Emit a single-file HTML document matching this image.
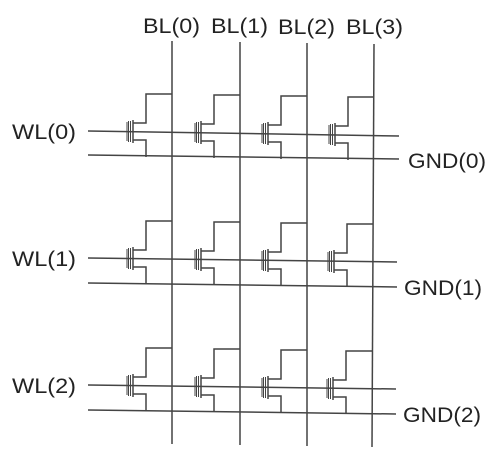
<!DOCTYPE html>
<html><head><style>
html,body{margin:0;padding:0;background:#fff;width:499px;height:456px;overflow:hidden}
text{font-family:"Liberation Sans",Arial,sans-serif;font-size:21px;fill:#222}
</style></head><body>
<svg width="499" height="456" viewBox="0 0 499 456" xmlns="http://www.w3.org/2000/svg">
<defs>
<g id="c" fill="none" stroke="#444" stroke-width="1.5">
<path d="M0,-38 H-26 V-9 H-39"/>
<path d="M-39,8 H-26 V25"/>
<path d="M-39,-12 V11"/>
<path d="M-41.5,-11 V10 M-43.5,-11 V10 M-45,-10 V9" stroke-width="1"/>
</g>
</defs>
<g stroke="#444" stroke-width="1.5">
<line x1="172" y1="41" x2="172" y2="444"/>
<line x1="240" y1="42" x2="240" y2="445"/>
<line x1="307" y1="43" x2="307" y2="446"/>
<line x1="374" y1="44" x2="372" y2="447"/>
<line x1="88" y1="131" x2="399" y2="136"/>
<line x1="88" y1="155" x2="399" y2="159"/>
<line x1="88" y1="258" x2="397" y2="262"/>
<line x1="88" y1="283" x2="397" y2="287"/>
<line x1="88" y1="385" x2="396" y2="389"/>
<line x1="88" y1="410" x2="396" y2="414"/>
</g>
<use href="#c" x="172" y="132"/><use href="#c" x="240" y="133"/><use href="#c" x="307" y="134"/><use href="#c" x="374" y="135"/>
<use href="#c" x="172" y="259"/><use href="#c" x="240" y="260"/><use href="#c" x="307" y="261"/><use href="#c" x="373" y="262"/>
<use href="#c" x="172" y="386"/><use href="#c" x="240" y="387"/><use href="#c" x="307" y="388"/><use href="#c" x="372" y="389"/>
<g lengthAdjust="spacingAndGlyphs">
<text x="143" y="33" textLength="57" lengthAdjust="spacingAndGlyphs">BL(0)</text>
<text x="211" y="33" textLength="57" lengthAdjust="spacingAndGlyphs">BL(1)</text>
<text x="278" y="34" textLength="57" lengthAdjust="spacingAndGlyphs">BL(2)</text>
<text x="346" y="34" textLength="57" lengthAdjust="spacingAndGlyphs">BL(3)</text>
<text x="12" y="139" textLength="64" lengthAdjust="spacingAndGlyphs">WL(0)</text>
<text x="12" y="266" textLength="64" lengthAdjust="spacingAndGlyphs">WL(1)</text>
<text x="12" y="393" textLength="64" lengthAdjust="spacingAndGlyphs">WL(2)</text>
<text x="408" y="168" textLength="78" lengthAdjust="spacingAndGlyphs">GND(0)</text>
<text x="404" y="295" textLength="78" lengthAdjust="spacingAndGlyphs">GND(1)</text>
<text x="403" y="422" textLength="78" lengthAdjust="spacingAndGlyphs">GND(2)</text>
</g>
</svg>
</body></html>
